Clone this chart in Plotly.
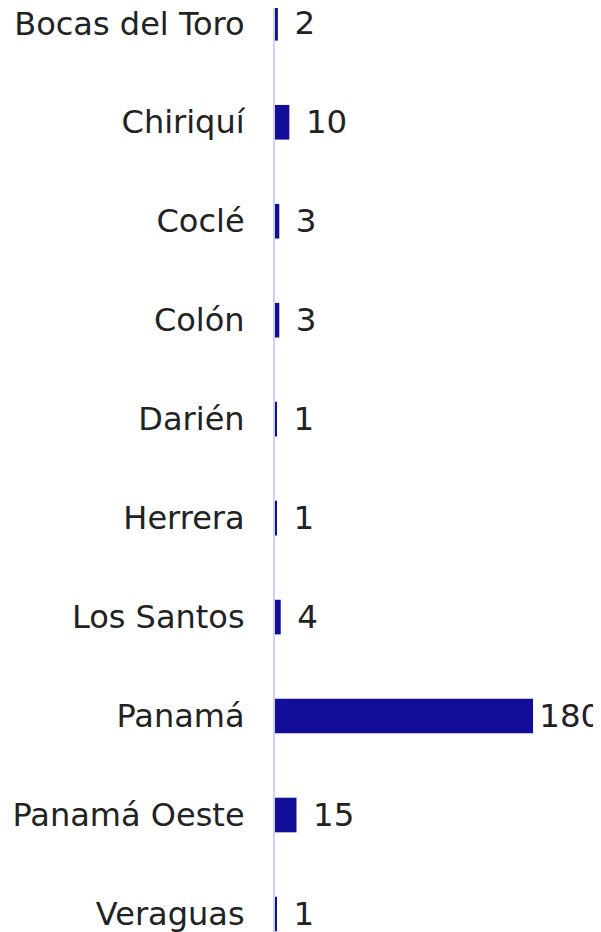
import plotly.graph_objects as go

provincias = ["Bocas del Toro", "Chiriquí", "Coclé", "Colón", "Darién",
              "Herrera", "Los Santos", "Panamá", "Panamá Oeste", "Veraguas"]
casos = [2, 10, 3, 3, 1, 1, 4, 180, 15, 1]

etiquetas = ["\u200a" + ("\u00a0" if v < 100 else "") + str(v) for v in casos]

fig = go.Figure(go.Bar(
    y=provincias,
    x=casos,
    orientation="h",
    marker=dict(color="#130e9a", line=dict(width=0)),
    width=0.35,
    text=etiquetas,
    textposition="outside",
    constraintext="none",
    textfont=dict(family="DejaVu Sans", size=32.5, color="#222222"),
    cliponaxis=False,
    hoverinfo="skip",
))

fig.update_layout(
    width=601, height=932,
    margin=dict(l=267, r=0, t=0, b=0, autoexpand=False),
    paper_bgcolor="white", plot_bgcolor="white",
    showlegend=False,
    font=dict(family="DejaVu Sans", size=32, color="#222222"),
    xaxis=dict(range=[0, 233.0], visible=False, showgrid=False, zeroline=False,
               automargin=False),
    yaxis=dict(
        categoryorder="array", categoryarray=provincias,
        range=[9.263, -0.1546],
        showline=True, linecolor="#ccd0ff", linewidth=2,
        showgrid=False, zeroline=False, ticks="",
        ticklabelstandoff=22, automargin=False,
        tickfont=dict(family="DejaVu Sans", size=32, color="#222222"),
    ),
)

fig.write_html("out.html")
